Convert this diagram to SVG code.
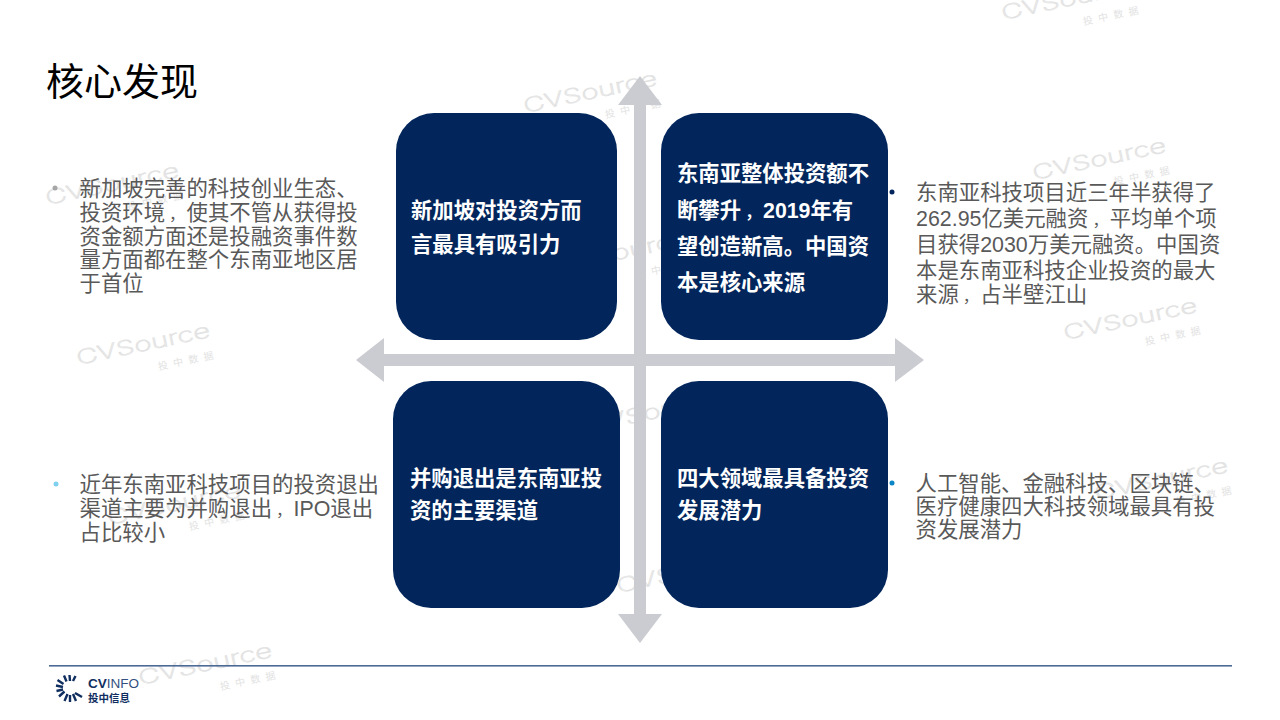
<svg xmlns="http://www.w3.org/2000/svg" width="1280" height="720" viewBox="0 0 1280 720">
<style>
text{font-family:"Liberation Sans","Noto Sans CJK SC",sans-serif}
.wm{font-family:"Inter","Liberation Sans",sans-serif;font-weight:200;font-size:20px;fill:none;stroke:#e2e2e2;stroke-width:.7px}
.wz{font-family:"Noto Sans CJK SC",sans-serif;font-size:10px;letter-spacing:5.5px;fill:#e2e2e2}
.card{fill:#02265c}
.ct{font-size:21.33px;font-weight:700;fill:#fff}
.bt{font-size:21.4px;fill:#595959}
.ax{fill:#cbccd1}
.cm{font-size:16px}
</style>
<defs>
<g id="w"><text class="wm" x="0" y="0" textLength="136" lengthAdjust="spacingAndGlyphs">CVSource</text><text class="wz" x="78" y="22">投中数据</text></g>
</defs>
<rect width="1280" height="720" fill="#fff"/>
<g id="watermarks">
<use href="#w" transform="translate(1003 20) rotate(-12)"/>
<use href="#w" transform="translate(1034 180) rotate(-12)"/>
<use href="#w" transform="translate(1065 340) rotate(-12)"/>
<use href="#w" transform="translate(1096 500) rotate(-12)"/>
<use href="#w" transform="translate(525 113) rotate(-12)"/>
<use href="#w" transform="translate(556 273) rotate(-12)"/>
<use href="#w" transform="translate(587 433) rotate(-12)"/>
<use href="#w" transform="translate(618 593) rotate(-12)"/>
<use href="#w" transform="translate(47 205) rotate(-12)"/>
<use href="#w" transform="translate(78 365) rotate(-12)"/>
<use href="#w" transform="translate(109 525) rotate(-12)"/>
<use href="#w" transform="translate(140 685) rotate(-12)"/>
</g>
<g id="title"><text x="46" y="95" font-size="38" fill="#000">核心发现</text></g>
<g id="connectors">
<polygon class="ax" points="640,76 662,105 646,105 646,614 662,614 640,643 618,614 634,614 634,105 618,105"/>
<polygon class="ax" points="356,360 384,338 384,354 895,354 895,338 924,360 895,382 895,366 384,366 384,382"/>
</g>
<g id="card-tl"><rect class="card" x="396" y="113" width="221" height="227" rx="38"/>
<text class="ct" x="411" y="218">新加坡对投资方而</text><text class="ct" x="411" y="252">言最具有吸引力</text></g>
<g id="card-tr"><rect class="card" x="661" y="113" width="227" height="227" rx="38"/>
<text class="ct" x="677" y="181">东南亚整体投资额不</text><text class="ct" x="677" y="218">断攀升<tspan class="cm" dx="4">，</tspan><tspan dx="2">2019年有</tspan></text><text class="ct" x="677" y="254">望创造新高。中国资</text><text class="ct" x="677" y="290">本是核心来源</text></g>
<g id="card-bl"><rect class="card" x="393" y="381" width="227" height="227" rx="38"/>
<text class="ct" x="410" y="486">并购退出是东南亚投</text><text class="ct" x="410" y="518">资的主要渠道</text></g>
<g id="card-br"><rect class="card" x="661" y="381" width="227" height="227" rx="38"/>
<text class="ct" x="677" y="486">四大领域最具备投资</text><text class="ct" x="677" y="518">发展潜力</text></g>
<g id="note-tl"><circle cx="55" cy="188" r="2.5" fill="#a6a6a6"/>
<text class="bt" x="79.500" y="196">新加坡完善的科技创业生态、</text><text class="bt" x="79.500" y="220">投资环境<tspan class="cm" dx="4">，</tspan><tspan dx="1.400">使其不管从获得投</tspan></text><text class="bt" x="79.500" y="243.500">资金额方面还是投融资事件数</text><text class="bt" x="79.500" y="267">量方面都在整个东南亚地区居</text><text class="bt" x="79.500" y="290.500">于首位</text></g>
<g id="note-tr"><circle cx="892" cy="192" r="2.5" fill="#02265c"/>
<text class="bt" x="916" y="200">东南亚科技项目近三年半获得了</text><text class="bt" x="916" y="226">262.95亿美元融资<tspan class="cm" dx="4">，</tspan><tspan dx="1.400">平均单个项</tspan></text><text class="bt" x="916" y="252">目获得2030万美元融资。中国资</text><text class="bt" x="916" y="278">本是东南亚科技企业投资的最大</text><text class="bt" x="916" y="302">来源<tspan class="cm" dx="4">，</tspan><tspan dx="1.400">占半壁江山</tspan></text></g>
<g id="note-bl"><circle cx="56" cy="484" r="2.5" fill="#7fd0ee"/>
<text class="bt" x="79.500" y="492">近年东南亚科技项目的投资退出</text><text class="bt" x="79.500" y="516">渠道主要为并购退出<tspan class="cm" dx="4">，</tspan><tspan dx="1.400">IPO退出</tspan></text><text class="bt" x="79.500" y="540">占比较小</text></g>
<g id="note-br"><circle cx="892" cy="483" r="2.5" fill="#0a85c5"/>
<text class="bt" x="915.500" y="491">人工智能、金融科技、区块链、</text><text class="bt" x="915.500" y="514">医疗健康四大科技领域最具有投</text><text class="bt" x="915.500" y="537">资发展潜力</text></g>
<g id="footer"><rect x="49" y="665" width="1183" height="1.6" fill="#4d6a97"/>
<g id="logo" stroke="#0f2e5f" stroke-width="2.4" fill="none">
<path d="M64 675.500l2.500 6M69.500 675l.5 6M75.500 676l-2.500 5M57.500 680l6 4M56 685.500l7 1.500M56.500 691l6.500-1.500M59 696.500l5.500-5M64.500 701l3-7M70 702l0-7M76 701l-3-7M82 697l-7-4"/>
</g>
<text x="88" y="688" font-size="13.5" font-weight="700" fill="#0f2e5f">CV<tspan font-weight="400" fill="#33507f">INFO</tspan></text>
<text x="88" y="701.500" font-size="10.500" font-weight="700" fill="#0f2e5f" style="font-family:'Noto Sans CJK SC',sans-serif">投中信息</text></g>
</svg>
